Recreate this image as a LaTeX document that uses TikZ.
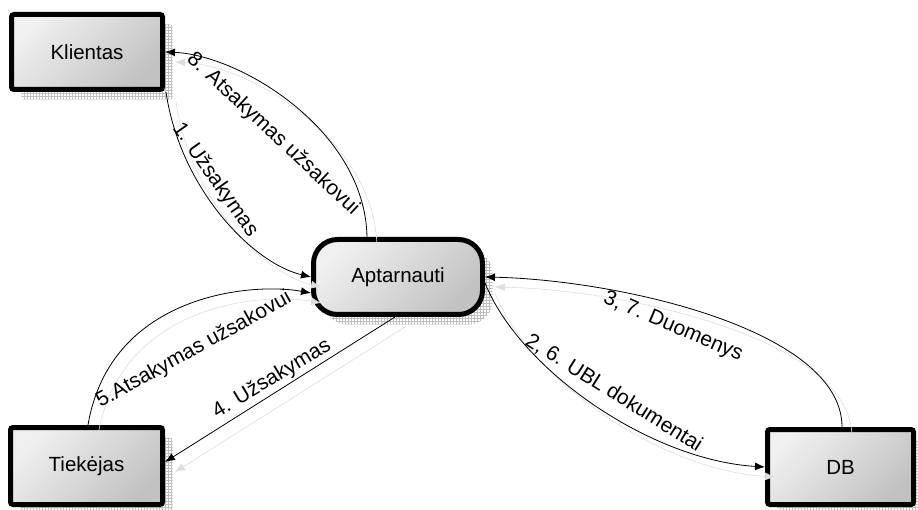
\documentclass[tikz,border=0pt]{standalone}
\usepackage{fontspec}
\setmainfont{Liberation Sans}
\usetikzlibrary{arrows.meta,patterns,shadows}
\begin{document}
\begin{tikzpicture}[x=1pt,y=-1pt,
  procbox/.style={draw=black, line width=5pt, rounded corners=2.5pt,
    top color=black!6, bottom color=black!24, shading angle=45,
    general shadow={shadow xshift=10pt, shadow yshift=-10pt,
      pattern=grid, pattern color=black!25},
    font=\fontsize{20.5}{24}\selectfont, inner sep=0pt},
  ghost/.style={preaction={draw=black!13, line width=0.6pt,
    transform canvas={shift={(10pt,-10pt)}}}},
  flow/.style={draw=black, line width=0.8pt,
    -{Latex[length=10pt,width=8pt]}, ghost},
  lbl/.style={font=\fontsize{21}{24}\selectfont, inner sep=0pt}]
\useasboundingbox (0,0) rectangle (918,510);

% processes and stores
\node[procbox, minimum width=151pt, minimum height=75pt] (kl) at (87,52) {Klientas};
\node[procbox, minimum width=152pt, minimum height=77pt] (ti) at (86.5,466) {Tiekėjas};
\node[procbox, minimum width=146pt, minimum height=75pt] (db) at (840.5,467) {DB};
\node[procbox, rounded corners=24pt, minimum width=169pt, minimum height=75pt]
  (apt) at (398,277) {Aptarnauti};

% data flows
\draw[flow] ([xshift=1pt]kl.south east) .. controls +(14,96) and +(-59,-14) .. (apt.west);
\draw[flow] ([xshift=-31pt]apt.north) .. controls +(-2,-107) and +(75,3) .. (kl.east);
\draw[flow] ([xshift=1.5pt]ti.north) .. controls +(22,-130) and +(-61,-11) .. ([yshift=-16pt]apt.west);
\draw[flow] ([xshift=-3pt]apt.south) -- ([yshift=4pt]ti.east);
\draw[flow] ([yshift=-6pt]apt.east) .. controls +(35,87) and +(-115,-7) .. (db.west);
\draw[flow] ([xshift=1.5pt]db.north) .. controls +(0,-97) and +(135,3) .. (apt.east);

% flow labels
\node[lbl, rotate=-43] (l8) at (273,134) {8. Atsakymas užsakovui};
\node[lbl, rotate=-55] (l1) at (215,180) {1. Užsakymas};
\node[lbl, rotate=29] (l5) at (194,350) {5.Atsakymas užsakovui};
\node[lbl, rotate=31] (l4) at (272,379) {4. Užsakymas};
\node[lbl, rotate=-23] (l37) at (673,327) {3, 7. Duomenys};
\node[lbl, rotate=-32] (l26) at (614,393) {2, 6. UBL dokumentai};
\end{tikzpicture}
\end{document}
